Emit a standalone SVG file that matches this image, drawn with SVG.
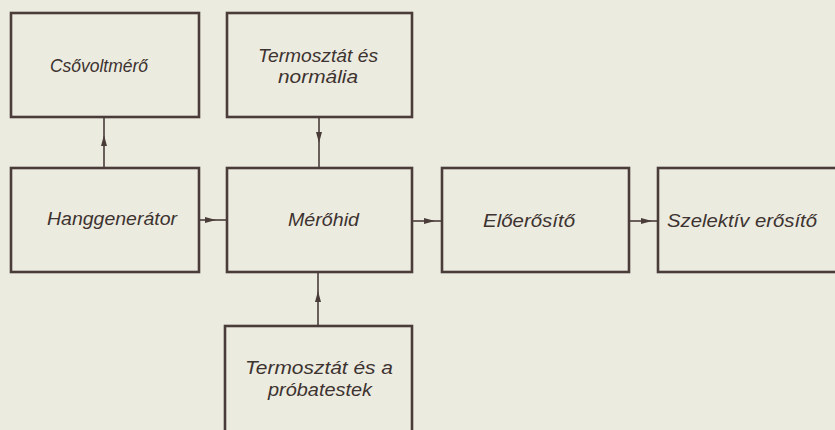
<svg xmlns="http://www.w3.org/2000/svg" width="835" height="430" viewBox="0 0 835 430">
<style>
.box{fill:none;stroke:#4a3d39;stroke-width:2.6}
.con{fill:none;stroke:#4a3d39;stroke-width:1.6;marker-mid:url(#ah)}
.t{font-family:"Liberation Sans",Arial,sans-serif;font-style:italic;font-size:19px;fill:#3d3330}
.t2{font-size:18px}
</style>
<defs>
<marker id="ah" markerWidth="12" markerHeight="8" refX="11" refY="4" orient="auto" markerUnits="userSpaceOnUse">
<path d="M0,1 L11,4 L0,7 Z" fill="#4a3d39"/>
</marker>
</defs>
<rect width="835" height="430" fill="#ecebe0"/>
<g id="connectors">
<path class="con" d="M199,220 L216,220 L227,220"/>
<path class="con" d="M412,221 L435,221 L442,221"/>
<path class="con" d="M629,221 L652,221 L658,221"/>
<path class="con" d="M104,168 L104,135 L104,117"/>
<path class="con" d="M319,117 L319,143 L319,168"/>
<path class="con" d="M318,326 L318,291 L318,272"/>
</g>
<g id="csovoltmero">
<rect class="box" x="11" y="13" width="188" height="104"/>
<text class="t" x="50" y="72" textLength="98" lengthAdjust="spacingAndGlyphs">Csővoltmérő</text>
</g>
<g id="termosztat-normalia">
<rect class="box" x="227" y="13" width="185" height="104"/>
<text class="t t2" x="258" y="62" textLength="120" lengthAdjust="spacingAndGlyphs">Termosztát és</text>
<text class="t t2" x="278" y="83" textLength="80" lengthAdjust="spacingAndGlyphs">normália</text>
</g>
<g id="hanggenerator">
<rect class="box" x="11" y="168" width="188" height="104"/>
<text class="t" x="47" y="225" textLength="130" lengthAdjust="spacingAndGlyphs">Hanggenerátor</text>
</g>
<g id="merohid">
<rect class="box" x="227" y="168" width="185" height="104"/>
<text class="t" x="288" y="226" textLength="71" lengthAdjust="spacingAndGlyphs">Mérőhid</text>
</g>
<g id="eloerosito">
<rect class="box" x="442" y="168" width="187" height="104"/>
<text class="t" x="483" y="227" textLength="92" lengthAdjust="spacingAndGlyphs">Előerősítő</text>
</g>
<g id="szelektiv">
<rect class="box" x="658" y="168" width="190" height="104"/>
<text class="t" x="667" y="227" textLength="150" lengthAdjust="spacingAndGlyphs">Szelektív erősítő</text>
</g>
<g id="termosztat-probatestek">
<rect class="box" x="225" y="326" width="187" height="120"/>
<text class="t t2" x="245" y="374" textLength="148" lengthAdjust="spacingAndGlyphs">Termosztát és a</text>
<text class="t t2" x="268" y="396" textLength="104" lengthAdjust="spacingAndGlyphs">próbatestek</text>
</g>
</svg>
